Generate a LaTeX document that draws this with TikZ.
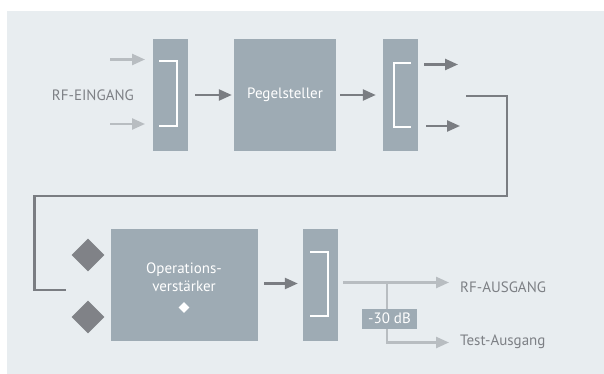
\documentclass[tikz,border=0pt]{standalone}
\usepackage{fontspec}
\setmainfont{PT Sans}
\usetikzlibrary{arrows.meta,shapes.geometric}
\definecolor{panel}{HTML}{E8EDF0}
\definecolor{boxc}{HTML}{9EABB4}
\definecolor{darkc}{HTML}{7A7D82}
\definecolor{lightc}{HTML}{B8BDC1}
\definecolor{txtc}{HTML}{7D8085}
\definecolor{diac}{HTML}{808287}
\tikzset{
  x=1pt,y=-1pt,
  blockbox/.style={fill=boxc,draw=none,inner sep=0pt,text=white,font=\fontsize{15}{17}\selectfont},
  darrow/.style={draw=darkc,line width=2.4pt,-{Triangle[length=13pt,width=11pt]}},
  larrow/.style={draw=lightc,line width=2.4pt,-{Triangle[length=13pt,width=11pt]}},
  lline/.style={draw=lightc,line width=2.4pt},
  fbline/.style={draw=darkc,line width=2.4pt},
  bracketline/.style={draw=white,line width=2pt},
  lbl/.style={text=txtc,font=\fontsize{15}{17}\selectfont,inner sep=0pt},
  dia/.style={diamond,fill=diac,draw=none,inner sep=0pt,minimum width=33pt,minimum height=33pt},
}
\begin{document}
\begin{tikzpicture}
\useasboundingbox (0,0) rectangle (604,374);
\fill[white] (0,0) rectangle (604,374);
\fill[panel] (7,11) rectangle (604,374);
% upper row
\node[blockbox,minimum width=35pt,minimum height=112pt] (b1) at (170.5,95) {};
\node[blockbox,minimum width=102pt,minimum height=112pt] (peg) at (285,95) {Pegelsteller};
\node[blockbox,minimum width=35pt,minimum height=112pt] (b3) at (400.5,95) {};
\draw[bracketline] (159,61.5) -- (177,61.5) -- (177,126) -- (159,126);
\draw[bracketline] (411,63.5) -- (393.5,63.5) -- (393.5,127.5) -- (411,127.5);
\node[lbl,anchor=east] (rfin) at (134,95) {RF-EINGANG};
\coordinate (i1s) at (110,59.5); \coordinate (i1e) at (145,59.5);
\coordinate (i2s) at (110,124); \coordinate (i2e) at (145,124);
\draw[larrow] (i1s) -- (i1e);
\draw[larrow] (i2s) -- (i2e);
\draw[darrow] ([xshift=7pt]b1.east) -- ([xshift=-2pt]peg.west);
\draw[darrow] ([xshift=4pt]peg.east) -- ([xshift=-7pt]b3.west);
\coordinate (o1s) at (424,64.5); \coordinate (o1e) at (458,64.5);
\coordinate (o2s) at (426,126); \coordinate (o2e) at (460,126);
\draw[darrow] (o1s) -- (o1e);
\draw[darrow] (o2s) -- (o2e);
% feedback
\coordinate (f0) at (466,96);
\coordinate (f1) at (507,96);
\coordinate (f2) at (507,196);
\coordinate (f3) at (34.5,196);
\coordinate (f4) at (34.5,290);
\coordinate (f5) at (66,290);
\draw[fbline] (f0) -- (f1) -- (f2) -- (f3) -- (f4) -- (f5);
% lower row
\node[dia] (d1) at (88,255) {};
\node[dia] (d2) at (88,317) {};
\node[blockbox,minimum width=147pt,minimum height=112pt] (op) at (184.5,285) {};
\node[text=white,font=\fontsize{15}{18}\selectfont,align=center,inner sep=0pt] (optxt) at (184,277) {Operations-\\verstärker};
\node[diamond,fill=white,inner sep=0pt,minimum width=11pt,minimum height=11pt] (wd) at (184,307.5) {};
\node[blockbox,minimum width=35pt,minimum height=112pt] (b5) at (320.5,285) {};
\draw[bracketline] (310,251.5) -- (328,251.5) -- (328,316) -- (310,316);
\draw[darrow] ([xshift=6pt]op.east|-0,283.5) -- ([xshift=-5pt]b5.west|-0,283.5);
\coordinate (s0) at (343,282.5);
\coordinate (sj) at (387,282.5);
\coordinate (s1) at (449,282.5);
\coordinate (t0) at (387,342.5);
\coordinate (t1) at (449,342.5);
\draw[larrow] (s0) -- (s1);
\draw[lline] (sj) -- (t0);
\draw[larrow] ([yshift=1.2pt]t0) -- (t0) -- (t1);
\node[fill=boxc,text=white,font=\fontsize{15}{17}\selectfont,minimum width=55pt,minimum height=20pt,inner sep=0pt] (att) at (389.5,318.5) {-30 dB};
\node[lbl,anchor=west] (rfout) at (460,287) {RF-AUSGANG};
\node[lbl,anchor=west] (test) at (460,342) {Test-Ausgang};
\end{tikzpicture}
\end{document}
